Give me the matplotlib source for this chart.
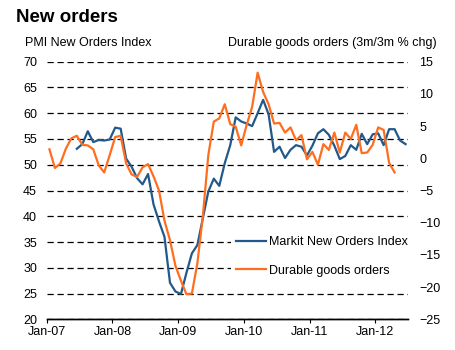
import numpy as np
import pandas as pd
import matplotlib
matplotlib.use('Agg')
import matplotlib.pyplot as plt

plt.rcParams['font.family'] = ['Liberation Sans', 'DejaVu Sans']

# monthly categories, Jan-07 .. Jun-12
months = pd.date_range('2007-01-01', '2012-06-01', freq='MS')
tick_labels = ['Jan-07', 'Jan-08', 'Jan-09', 'Jan-10', 'Jan-11', 'Jan-12']

nan = np.nan
# Markit New Orders Index (left axis), starts Jun-07
pmi_new_orders = [
    nan, nan, nan, nan, nan, 53.1, 54.0, 56.5, 54.4, 54.8, 54.7, 54.9,
    57.2, 57.0, 51.2, 49.6, 47.4, 46.2, 48.2, 42.3, 39.0, 36.0, 27.1, 25.4,
    24.9, 29.0, 32.8, 34.4, 39.6, 44.8, 47.3, 45.9, 50.3, 53.8, 59.2, 58.4,
    58.0, 57.5, 60.0, 62.6, 59.8, 52.5, 53.5, 51.3, 52.9, 53.8, 53.5, 51.8,
    53.7, 56.1, 56.9, 55.8, 53.7, 51.1, 51.7, 53.8, 52.9, 56.0, 54.0, 55.9,
    56.1, 53.8, 56.9, 56.9, 54.7, 54.0,
]
# Durable goods orders, 3m/3m % chg (right axis), ends Apr-12
durable_goods = [
    1.4, -1.5, -0.8, 1.5, 3.1, 3.5, 2.1, 2.0, 1.4, -1.1, -2.2, 0.5,
    3.3, 3.5, -0.8, -2.5, -2.9, -1.4, -0.9, -2.8, -5.0, -9.7, -12.7, -16.7,
    -19.0, -21.1, -21.0, -16.3, -9.0, 0.5, 5.7, 6.2, 8.4, 5.3, 4.9, 2.0,
    5.2, 8.0, 13.3, 10.3, 8.4, 5.4, 5.5, 4.0, 4.8, 2.8, 3.6, -0.15,
    1.0, -1.0, 2.2, 1.3, 4.0, 0.9, 4.0, 3.0, 5.2, 0.8, 0.9, 2.1,
    4.8, 4.4, -0.7, -2.2, nan, nan,
]

blue = '#22598a'
orange = '#ff6d1f'

x = np.arange(len(months))

fig = plt.figure(figsize=(4.56, 3.5), dpi=100)
ax = fig.add_axes([0.1024, 0.0877, 0.793, 0.736])
ax2 = ax.twinx()

ax.set_xlim(-0.5, len(months) - 0.5)
ax.set_ylim(20, 70)
ax2.set_ylim(-25, 15)
ax.set_yticks(range(20, 71, 5))
ax2.set_yticks(range(-25, 16, 5))

# dashed horizontal gridlines from the left axis
ax.yaxis.grid(True, linestyle=(0, (5, 3)), color='black', linewidth=0.9)
ax.set_axisbelow(True)

l1, = ax.plot(x, pmi_new_orders, color=blue, lw=1.6, label='Markit New Orders Index')
l2, = ax2.plot(x, durable_goods, color=orange, lw=1.6, label='Durable goods orders')

# x ticks sit between categories, at each January
jan_pos = [i - 0.5 for i, m in enumerate(months) if m.month == 1]
ax.set_xticks(jan_pos)
ax.set_xticklabels(tick_labels)

for a in (ax, ax2):
    for s in ('top', 'left', 'right'):
        a.spines[s].set_visible(False)
    a.spines['bottom'].set_color('black')
    a.spines['bottom'].set_linewidth(1.0)
ax.tick_params(axis='y', length=0, labelsize=9, pad=7)
ax2.tick_params(axis='y', length=0, labelsize=9, pad=8)
ax.tick_params(axis='x', direction='out', length=3, width=0.8, labelsize=9, pad=2)

leg = ax2.legend(handles=[l1, l2], loc='center left', bbox_to_anchor=(0.51, 0.244),
                 frameon=True, facecolor='white', edgecolor='none', framealpha=1,
                 fancybox=False, fontsize=9, handlelength=2.4, handletextpad=0.25,
                 labelspacing=1.3, borderpad=0.4, borderaxespad=0)

fig.text(0.035, 0.95, 'New orders', fontsize=13.5, fontweight='bold', va='center', ha='left')
fig.text(0.055, 0.876, 'PMI New Orders Index', fontsize=9, va='center', ha='left')
fig.text(0.958, 0.876, 'Durable goods orders (3m/3m % chg)', fontsize=9, va='center', ha='right')

fig.savefig('out.png', dpi=100)
